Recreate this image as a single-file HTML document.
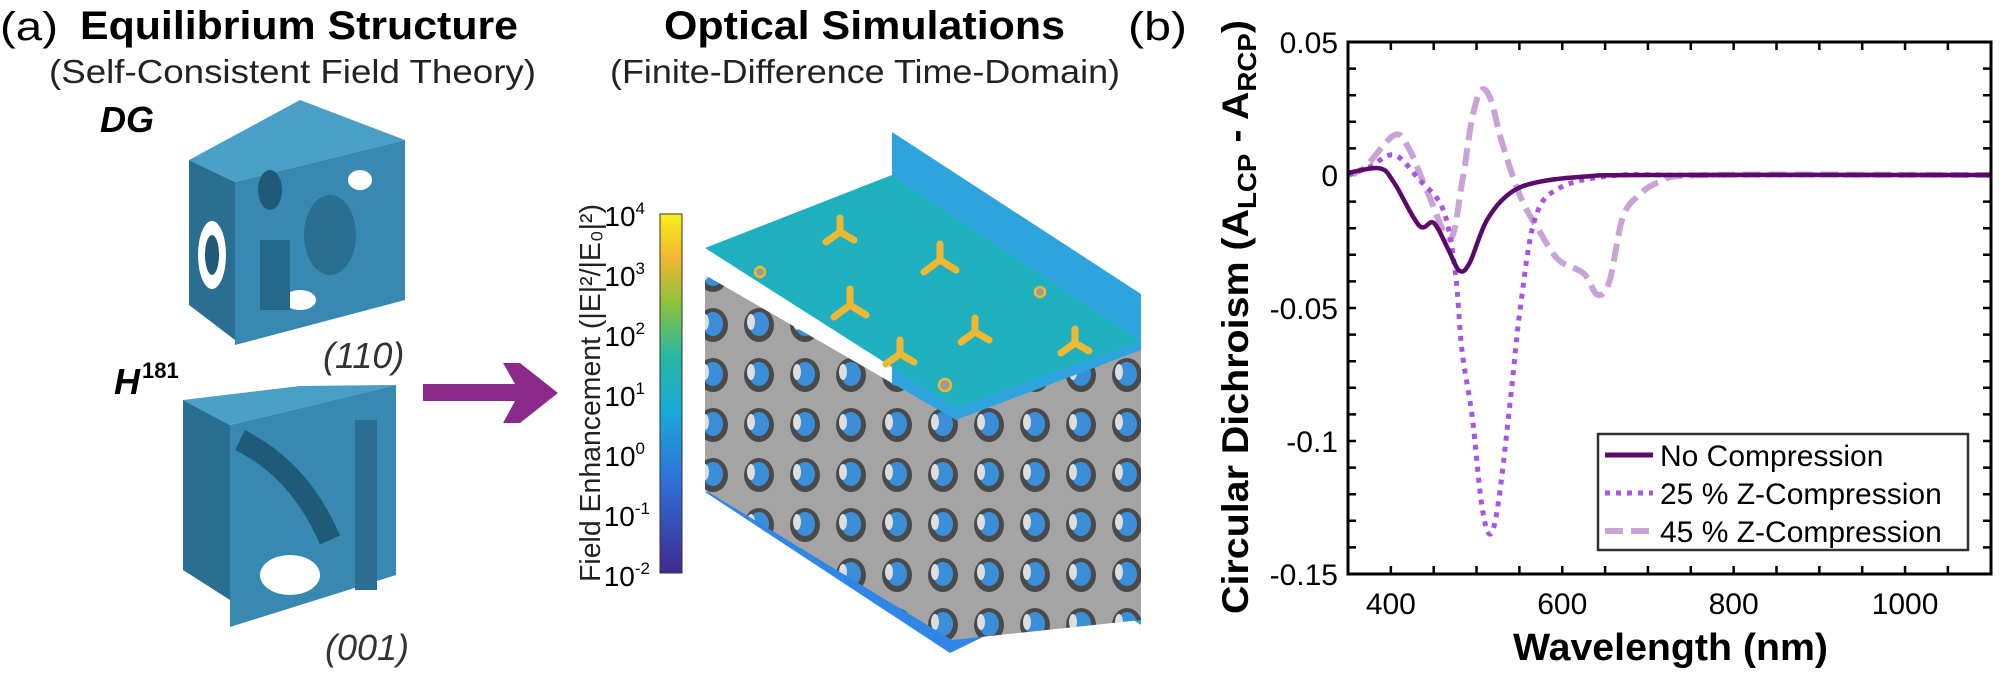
<!DOCTYPE html>
<html><head><meta charset="utf-8"><style>
html,body{margin:0;padding:0;background:#fff}
svg{display:block}
text{font-family:"Liberation Sans",sans-serif}
</style></head><body>
<svg id="s" width="2004" height="688" viewBox="0 0 2004 688" xmlns="http://www.w3.org/2000/svg">
<text x="0" y="40" font-size="40" textLength="58" lengthAdjust="spacingAndGlyphs">(a)</text>
<text x="80" y="39" font-size="40" font-weight="bold" textLength="438" lengthAdjust="spacingAndGlyphs">Equilibrium Structure</text>
<text x="49" y="83" font-size="33" textLength="487" lengthAdjust="spacingAndGlyphs" fill="#222">(Self-Consistent Field Theory)</text>
<text x="664" y="39" font-size="40" font-weight="bold" textLength="401" lengthAdjust="spacingAndGlyphs">Optical Simulations</text>
<text x="610" y="83" font-size="33" textLength="510" lengthAdjust="spacingAndGlyphs" fill="#222">(Finite-Difference Time-Domain)</text>
<text x="1128" y="40" font-size="40" textLength="59" lengthAdjust="spacingAndGlyphs">(b)</text>

<!-- DG cube -->
<text x="100" y="132" font-size="36" font-weight="bold" font-style="italic">DG</text>
<polygon points="189,160 235,182 235,340 189,305" fill="#2a6f92"/>
<polygon points="235,182 405,140 405,300 235,345" fill="#3789b2"/>
<polygon points="189,160 300,100 405,140 235,182" fill="#4a9fc6"/>
<ellipse cx="212" cy="255" rx="14" ry="34" fill="#fff"/>
<ellipse cx="212" cy="255" rx="7" ry="20" fill="#1f5a78"/>
<ellipse cx="330" cy="235" rx="26" ry="40" fill="#2a6f92"/>
<ellipse cx="300" cy="300" rx="16" ry="10" fill="#fff"/>
<ellipse cx="360" cy="180" rx="12" ry="10" fill="#fff"/>
<ellipse cx="270" cy="190" rx="12" ry="20" fill="#1f5a78"/>
<rect x="260" y="240" width="30" height="70" fill="#24688a"/>
<text x="323" y="368" font-size="36" font-style="italic" fill="#333">(110)</text>
<!-- H181 cube -->
<text x="114" y="394" font-size="36" font-weight="bold" font-style="italic">H</text>
<text x="142" y="378" font-size="22" font-weight="bold">181</text>
<polygon points="183,400 230,425 230,600 183,570" fill="#2a6f92"/>
<polygon points="230,425 396,385 396,575 230,627" fill="#3789b2"/>
<polygon points="183,400 300,386 396,385 230,425" fill="#4a9fc6"/>
<path d="M240,440 Q300,470 330,540" stroke="#1f5a78" stroke-width="22" fill="none"/>
<ellipse cx="290" cy="575" rx="30" ry="20" fill="#fff"/>
<rect x="355" y="420" width="22" height="170" fill="#2a6f92"/>
<text x="325" y="660" font-size="36" font-style="italic" fill="#333">(001)</text>

<polygon points="423,384 515,384 503,363 520,363 558,393 520,423 503,423 515,401 423,401" fill="#8b2a8b"/>

<defs>
<linearGradient id="cb" x1="0" y1="1" x2="0" y2="0">
<stop offset="0" stop-color="#3e2a8e"/><stop offset="0.25" stop-color="#2f6fd8"/>
<stop offset="0.45" stop-color="#1aa9d6"/><stop offset="0.6" stop-color="#25b6a5"/>
<stop offset="0.75" stop-color="#8cc23c"/><stop offset="0.88" stop-color="#f3b630"/>
<stop offset="1" stop-color="#f7f118"/></linearGradient>
<pattern id="lat" width="46" height="50" patternUnits="userSpaceOnUse">
<rect width="46" height="50" fill="#a4a4a4"/>
<ellipse cx="23" cy="25" rx="15" ry="17" fill="#4a4a4a"/>
<ellipse cx="23" cy="24" rx="10" ry="12" fill="#3a8fd8"/>
<ellipse cx="15" cy="22" rx="4" ry="8" fill="#dedede"/></pattern>
</defs>
<rect x="660" y="214" width="22" height="359" fill="url(#cb)" stroke="#333" stroke-width="1"/>
<g font-size="28" text-anchor="end">
<text x="645" y="226">10<tspan dy="-12" font-size="17">4</tspan></text>
<text x="645" y="286">10<tspan dy="-12" font-size="17">3</tspan></text>
<text x="645" y="346">10<tspan dy="-12" font-size="17">2</tspan></text>
<text x="645" y="406">10<tspan dy="-12" font-size="17">1</tspan></text>
<text x="645" y="466">10<tspan dy="-12" font-size="17">0</tspan></text>
<text x="650" y="526">10<tspan dy="-12" font-size="17">-1</tspan></text>
<text x="650" y="586">10<tspan dy="-12" font-size="17">-2</tspan></text>
</g>
<text transform="translate(600,582) rotate(-90)" font-size="29" textLength="378" lengthAdjust="spacingAndGlyphs" fill="#222">Field Enhancement (|E|²/|E₀|²)</text>

<polygon points="892,132 1141,294 1141,625 892,460" fill="#2fa3de"/>
<polygon points="705,492 950,653 1141,560 895,420" fill="#2f86e6"/>
<polygon points="705,275 956,420 1141,350 1141,620 952,640 705,490" fill="url(#lat)"/>
<polygon points="705,248 892,175 1141,341 956,408" fill="#1fb0bf"/>
<g fill="#9a9a9a" stroke="#f0b830" stroke-width="2.5">
<path d="M840,232 l-14,10 m14,-10 l14,8 m-14,-8 v-14" stroke-width="7" stroke-linecap="round"/>
<path d="M940,260 l-16,12 m16,-12 l16,10 m-16,-10 v-16" stroke-width="7" stroke-linecap="round"/>
<path d="M850,305 l-16,12 m16,-12 l16,10 m-16,-10 v-16" stroke-width="7" stroke-linecap="round"/>
<path d="M975,332 l-14,10 m14,-10 l14,8 m-14,-8 v-14" stroke-width="7" stroke-linecap="round"/>
<path d="M1075,343 l-14,10 m14,-10 l14,8 m-14,-8 v-14" stroke-width="7" stroke-linecap="round"/>
<path d="M900,354 l-14,10 m14,-10 l14,8 m-14,-8 v-14" stroke-width="7" stroke-linecap="round"/>
<circle cx="1040" cy="292" r="5"/><circle cx="760" cy="272" r="5"/><circle cx="945" cy="385" r="6"/></g>

<g id="plot"></g>
<text transform="translate(1248,614) rotate(-90)" font-size="37" font-weight="bold" textLength="594" lengthAdjust="spacingAndGlyphs">Circular Dichroism (A<tspan dy="8" font-size="26">LCP</tspan><tspan dy="-8"> - A</tspan><tspan dy="8" font-size="26">RCP</tspan><tspan dy="-8">)</tspan></text>
<text x="1513" y="660" font-size="38" font-weight="bold" textLength="315" lengthAdjust="spacingAndGlyphs">Wavelength (nm)</text>
</svg>
<script>
var NS="http://www.w3.org/2000/svg",g=document.getElementById("plot");
function X(n){return 1348+(n-350)*0.857}function Y(v){return 175-v*2660}
function el(t,a,txt){var e=document.createElementNS(NS,t);for(var k in a)e.setAttribute(k,a[k]);if(txt!=null)e.textContent=txt;g.appendChild(e);return e}
var L=1348,R=1991,T=42,B=574,d="";
for(var n=350;n<=1100;n+=50){var x=X(n);d+="M"+x+","+B+"v-8M"+x+","+T+"v8";}
for(var i=-15;i<=5;i++){var y=Y(i/100);d+="M"+L+","+y+"h8M"+R+","+y+"h-8";}
el("path",{d:d,stroke:"#000","stroke-width":2.5,fill:"none"});
[[400,"400"],[600,"600"],[800,"800"],[1000,"1000"]].forEach(function(a){el("text",{x:X(a[0]),y:614,"font-size":30,"text-anchor":"middle"},a[1])});
[[0.05,"0.05"],[0,"0"],[-0.05,"-0.05"],[-0.1,"-0.1"],[-0.15,"-0.15"]].forEach(function(a){el("text",{x:1338,y:Y(a[0])+11,"font-size":30,"text-anchor":"end"},a[1])});
function cr(p){var s="M"+X(p[0][0])+","+Y(p[0][1]);for(var i=0;i<p.length-1;i++){var p0=p[Math.max(i-1,0)],p1=p[i],p2=p[i+1],p3=p[Math.min(i+2,p.length-1)];
var a=[X(p0[0]),Y(p0[1])],b=[X(p1[0]),Y(p1[1])],c=[X(p2[0]),Y(p2[1])],e=[X(p3[0]),Y(p3[1])];
s+="C"+(b[0]+(c[0]-a[0])/6)+","+(b[1]+(c[1]-a[1])/6)+" "+(c[0]-(e[0]-b[0])/6)+","+(c[1]-(e[1]-b[1])/6)+" "+c[0]+","+c[1];}return s}
var s1=[[350,0.0008],[387,0.0025],[404,-0.003],[433,-0.019],[450,-0.018],[467,-0.028],[480,-0.036],[492,-0.033],[512,-0.017],[540,-0.0066],[574,-0.0025],[630,-0.0005],[700,0],[1100,0]];
var s2=[[350,0],[375,0.003],[404,0.0075],[433,-0.0017],[461,-0.013],[475,-0.036],[483,-0.066],[495,-0.091],[506,-0.124],[516,-0.135],[526,-0.122],[540,-0.083],[551,-0.05],[568,-0.0166],[596,-0.005],[658,-0.0003],[750,0],[1100,0]];
var s3=[[350,0],[370,0.003],[404,0.015],[421,0.01],[443,-0.0066],[469,-0.024],[483,-0.003],[495,0.0215],[506,0.032],[517,0.028],[529,0.013],[551,-0.008],[574,-0.0215],[596,-0.032],[625,-0.037],[641,-0.045],[655,-0.04],[670,-0.0166],[687,-0.0083],[715,-0.0025],[771,0],[1100,0]];
el("path",{d:cr(s3),stroke:"#c9a2d6","stroke-width":6,fill:"none","stroke-dasharray":"18 8"});
el("path",{d:cr(s2),stroke:"#a855e0","stroke-width":5,fill:"none","stroke-dasharray":"5 6"});
el("path",{d:cr(s1),stroke:"#5a0a6a","stroke-width":4.5,fill:"none"});
el("rect",{x:L,y:T,width:R-L,height:B-T,fill:"none",stroke:"#000","stroke-width":3});
el("rect",{x:1598,y:434,width:370,height:116,fill:"#fff",stroke:"#333","stroke-width":2.5});
el("line",{x1:1605,y1:455,x2:1653,y2:455,stroke:"#5a0a6a","stroke-width":5});
el("line",{x1:1605,y1:493,x2:1653,y2:493,stroke:"#a855e0","stroke-width":5,"stroke-dasharray":"5 6"});
el("line",{x1:1605,y1:531,x2:1653,y2:531,stroke:"#c9a2d6","stroke-width":6,"stroke-dasharray":"18 8"});
[["No Compression",455],["25 % Z-Compression",493],["45 % Z-Compression",531]].forEach(function(a){el("text",{x:1660,y:a[1]+11,"font-size":30},a[0])});
</script>
</body></html>
